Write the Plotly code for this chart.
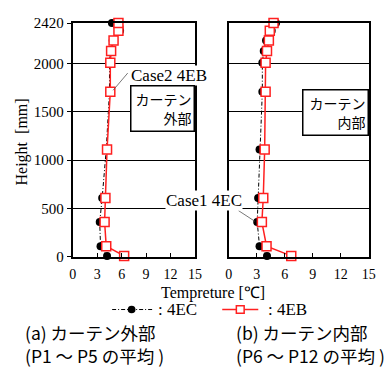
import plotly.graph_objects as go
from plotly.subplots import make_subplots

# Heights [mm]
heights = [10, 110, 360, 610, 1110, 1710, 2010, 2130, 2240, 2340, 2420]

# (a) outside curtain (P1-P5 avg)
out_4EC = [4.2, 3.4, 3.3, 3.6, 4.1, 4.5, 4.5, 4.6, 4.9, 5.8, 4.8]
out_4EB = [6.3, 4.1, 3.9, 4.0, 4.2, 4.6, 4.6, 4.7, 5.0, 5.6, 5.6]

# (b) inside curtain (P6-P12 avg)
in_4EC = [4.1, 3.3, 3.05, 3.15, 3.3, 3.6, 3.6, 3.75, 4.0, 4.6, 5.07]
in_4EB = [6.7, 4.05, 3.55, 3.7, 3.85, 3.95, 3.95, 4.1, 4.3, 4.4, 4.8]

x_ticks = [0, 3, 6, 9, 12, 15]
y_ticks = [0, 500, 1000, 1500, 2000, 2420]

SERIF = "Liberation Serif"
SANS = "Noto Sans CJK JP"
RED = "#ff2020"

fig = make_subplots(rows=1, cols=2)

def add_pair(ec, eb, col):
    fig.add_trace(go.Scatter(
        x=ec, y=heights, mode="lines+markers", name=": 4EC",
        line=dict(color="black", width=1, dash="4px,2px,1px,2px"),
        marker=dict(symbol="circle", size=8, color="black"),
        showlegend=False, cliponaxis=False), row=1, col=col)
    fig.add_trace(go.Scatter(
        x=eb, y=heights, mode="lines+markers", name=": 4EB",
        line=dict(color=RED, width=1.5),
        marker=dict(symbol="square", size=9, color="white",
                    line=dict(color=RED, width=1.5)),
        showlegend=False, cliponaxis=False), row=1, col=col)

add_pair(out_4EC, out_4EB, 1)
add_pair(in_4EC, in_4EB, 2)

W, H = 390, 374
def px(x):
    return x / W
def py(y):
    return (H - y) / H

ydom = [py(260), py(15.7)]
axis_common = dict(showline=True, linewidth=2, linecolor="black", mirror=True,
                   zeroline=False)
fig.update_xaxes(range=[0, 15], tickvals=x_ticks, ticks="inside", ticklen=4,
                 tickcolor="black", tickwidth=1, showgrid=False,
                 ticklabelstandoff=3,
                 tickfont=dict(family=SERIF, size=14, color="black"),
                 **axis_common)
fig.update_xaxes(domain=[px(71.7), px(197)], row=1, col=1)
fig.update_xaxes(domain=[px(231.7), px(375.3)], row=1, col=2)
fig.update_yaxes(range=[0, 2420], tickvals=y_ticks, showgrid=True,
                 gridcolor="black", gridwidth=1, domain=ydom,
                 tickfont=dict(family=SERIF, size=15, color="black"),
                 **axis_common)
fig.update_yaxes(ticks="outside", ticklen=4, tickcolor="black", row=1, col=1)
fig.update_yaxes(showticklabels=False, ticks="", row=1, col=2)

def txt(text, x, y, size, family=SERIF, xanchor="center", **kw):
    d = dict(text=text, x=px(x), y=py(y), xref="paper", yref="paper",
             xanchor=xanchor, yanchor="middle", showarrow=False,
             font=dict(family=family, size=size, color="black"))
    d.update(kw)
    return d

annotations = [
    txt("Height  [mm]", 20, 140, 16, textangle=-90),
    txt("Tempreture [℃]", 216, 298, 16),
    txt("Case2 4EB", 130, 70, 17, xanchor="left", bgcolor="white", borderpad=0),
    txt("Case1 4EC", 246, 201, 17, xanchor="right", bgcolor="white", borderpad=0),
    txt("カーテン<br>外部", 197, 104.7, 14, family=SANS, xanchor="right",
        align="right", bgcolor="white", bordercolor="black", borderwidth=1.5,
        borderpad=2, width=58, height=40),
    txt("カーテン<br>内部", 375.3, 108.8, 14, family=SANS, xanchor="right",
        align="right", bgcolor="white", bordercolor="black", borderwidth=1.5,
        borderpad=2, width=60, height=40),
    txt("(a) カーテン外部<br>(P1 ～ P5 の平均 )", 21, 351, 17.5, family=SANS,
        xanchor="left", align="left"),
    txt("(b) カーテン内部<br>(P6 ～ P12 の平均 )", 237, 351, 17.5, family=SANS,
        xanchor="left", align="left"),
    # legend labels
    txt(": 4EC", 157, 315, 17, xanchor="left"),
    txt(": 4EB", 270, 315, 17, xanchor="left"),
]

def pl(x0, y0, x1, y1, **line):
    return dict(type="line", xref="paper", yref="paper", x0=px(x0), y0=py(y0),
                x1=px(x1), y1=py(y1), line=line)

shapes = [
    pl(128, 68, 113, 86, color="#555555", width=0.8),
    pl(241.7, 211.7, 258.3, 222.7, color="#555555", width=0.8),
    # legend glyphs
    pl(112, 315, 155, 315, color="black", width=1, dash="4px,2px,1px,2px"),
    dict(type="circle", xref="paper", yref="paper", x0=px(128), x1=px(136),
         y0=py(319), y1=py(311), fillcolor="black", line=dict(color="black", width=0)),
    pl(225, 315, 262, 315, color=RED, width=1.5),
    dict(type="rect", xref="paper", yref="paper", x0=px(239.5), x1=px(247.5),
         y0=py(319), y1=py(311), fillcolor="white", line=dict(color=RED, width=1.5)),
]

fig.update_layout(
    width=W, height=H, margin=dict(l=0, r=0, t=0, b=0),
    paper_bgcolor="white", plot_bgcolor="white",
    annotations=annotations, shapes=shapes, showlegend=False,
)

fig.write_html("out.html")
